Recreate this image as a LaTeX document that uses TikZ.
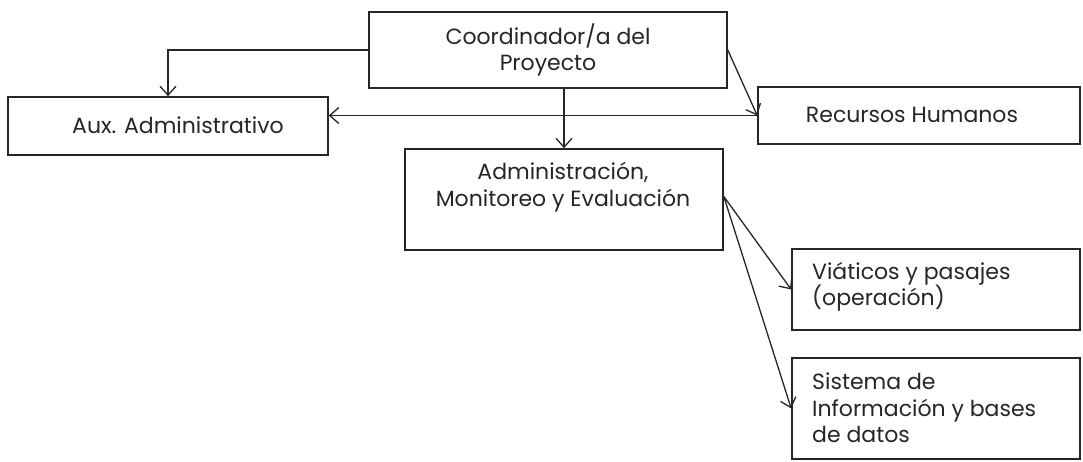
\documentclass[tikz,border=0pt]{standalone}
\usepackage{fontspec}
\setmainfont{Poppins}
\usetikzlibrary{arrows.meta}
\begin{document}
\begin{tikzpicture}[x=1pt,y=-1pt,
  box/.style={draw=black!85,line width=1.6pt,rectangle,inner sep=0pt},
  lbl/.style={inner sep=0pt,font=\fontsize{22}{26.5}\selectfont,text=black!85},
  arr/.style={draw=black!85,line width=1.3pt,-{Straight Barb[length=9pt,width=16pt,line width=1.3pt]}}]
\useasboundingbox (0,0) rectangle (1083,461);
\fill[white] (0,0) rectangle (1083,461);
\begin{scope}
\clip (0,0) rectangle (1083,461);
% boxes
\node[box,minimum width=358pt,minimum height=76pt] (coord) at (548,50) {};
\node[box,minimum width=320pt,minimum height=58pt] (aux) at (168,126) {};
\node[box,minimum width=322pt,minimum height=57pt] (rh) at (919,115.5) {};
\node[box,minimum width=318pt,minimum height=101pt] (adm) at (564,199.5) {};
\node[box,minimum width=288pt,minimum height=81pt] (via) at (936,289.5) {};
\node[box,minimum width=288pt,minimum height=101pt] (sis) at (936,408.5) {};
\end{scope}
% texts
\node[lbl,align=center] (tcoord) at (548,50) {Coordinador/a del\\Proyecto};
\node[lbl] (taux) at (178,125) {Aux. Administrativo};
\node[lbl] (trh) at (912,115) {Recursos Humanos};
\node[lbl,align=center] (tadm) at (563,187) {Administración,\\Monitoreo y Evaluación};
\node[lbl,align=left,anchor=west] (tvia) at (812,287) {Viáticos y pasajes\\(operación)};
\node[lbl,align=left,anchor=west] (tsis) at (812,408) {Sistema de\\Información y bases\\de datos};
% connectors
\draw[arr] (coord.west) -| (aux.north);
\draw[arr] (rh.west) -- (rh.west -| aux.east);
\draw[arr] (coord.east) -- (rh.west);
\draw[arr] (adm.north |- coord.south) -- (adm.north);
\draw[arr] ([yshift=3pt]adm.east) -- (via.west);
\draw[arr] ([yshift=3pt]adm.east) -- (sis.west);
\end{tikzpicture}
\end{document}
